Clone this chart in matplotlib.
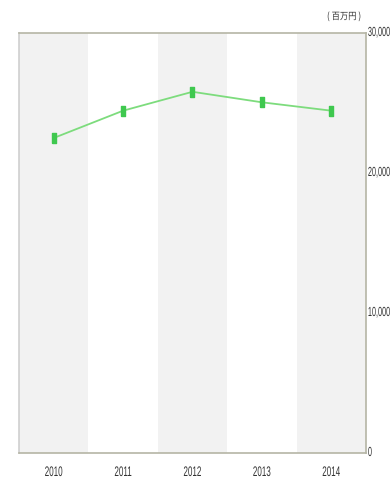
import matplotlib.pyplot as plt
from matplotlib.patheffects import AbstractPathEffect
from matplotlib.transforms import Affine2D

years = ['2010', '2011', '2012', '2013', '2014']
sales = [22500, 24450, 25800, 25050, 24450]   # 百万円
yticks = [0, 10000, 20000, 30000]
ytick_labels = ['0', '10,000', '20,000', '30,000']
unit = '( 百万円 )'

DPI = 100


class Squeeze(AbstractPathEffect):
    """Narrow the glyphs horizontally around a fixed pixel column."""

    def __init__(self, cx, sx):
        super().__init__()
        self.cx, self.sx = cx, sx

    def draw_path(self, renderer, gc, tpath, affine, rgbFace=None):
        squeeze = Affine2D().translate(-self.cx, 0).scale(self.sx, 1).translate(self.cx, 0)
        renderer.draw_path(gc, tpath, affine + squeeze, rgbFace)


fig = plt.figure(figsize=(3.92, 4.83), dpi=DPI)
ax = fig.add_axes([0.0485, 0.0621, 0.885, 0.8696])

x = list(range(len(years)))
# alternating column bands
for i in x:
    if i % 2 == 0:
        ax.axvspan(i - 0.5, i + 0.5, color='#f2f2f2', lw=0, zorder=0)

ax.plot(x, sales, color='#7ddc7d', lw=1.3, zorder=2)
box = [(-1, -2), (1, -2), (1, 2), (-1, 2), (-1, -2)]
ax.plot(x, sales, ls='', marker=box, ms=7, color='#3fc84f', zorder=3)

ax.set_xlim(-0.5, len(years) - 0.5)
ax.set_ylim(0, 30000)
ax.set_xticks([])
ax.set_yticks([])

for side in ['top', 'right', 'bottom']:
    ax.spines[side].set_color('#b5b5a5')
    ax.spines[side].set_linewidth(1.2)
ax.spines['left'].set_color('#cfcfcf')
ax.spines['left'].set_linewidth(1.2)

# tick labels, condensed
for i, lab in zip(x, years):
    px, _ = ax.transData.transform((i, 0))
    fig.text(px / fig.bbox.width, 1 - 472 / 483, lab, fontsize=10,
             fontfamily='Liberation Sans', color='#333333', ha='center', va='center',
             path_effects=[Squeeze(px, 0.58)])
x_right = ax.transAxes.transform((1, 0))[0] + 2
for v, lab in zip(yticks, ytick_labels):
    _, py = ax.transData.transform((0, v))
    fig.text(x_right / fig.bbox.width, py / fig.bbox.height, lab, fontsize=9.5,
             fontfamily='Liberation Sans', color='#333333', ha='left', va='center',
             path_effects=[Squeeze(x_right, 0.55)])

ux = 344
fig.text(ux / fig.bbox.width, 1 - 16 / 483, unit, fontsize=7,
         fontfamily=['Noto Sans CJK JP', 'DejaVu Sans'], color='#333333',
         ha='center', va='center', path_effects=[Squeeze(ux, 0.85)])

fig.savefig('out.png', dpi=DPI)
